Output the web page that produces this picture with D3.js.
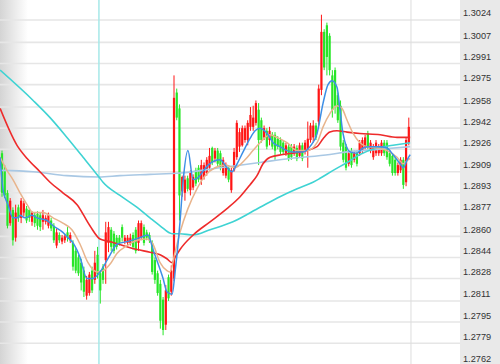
<!DOCTYPE html>
<html>
<head>
<meta charset="utf-8">
<script src="https://cdn.jsdelivr.net/npm/d3@7"></script>
<style>
  html, body { margin: 0; padding: 0; background: #fff; }
  svg { display: block; }
</style>
</head>
<body>
<div id="chart"></div>
<script>
// right scale labels
const priceTicks = ["1.3024", "1.3007", "1.2991", "1.2975", "1.2958", "1.2942", "1.2926", "1.2909",
    "1.2893", "1.2877", "1.2860", "1.2844", "1.2828", "1.2811", "1.2795", "1.2779", "1.2762"];

// candles, one per bar: [open, high, low, close]
const candles = [
    [1.2923,1.2925,1.2890,1.2893], [1.2910,1.2914,1.2889,1.2891], [1.2893,1.2895,1.2866,1.2868], [1.2870,1.2889,1.2868,1.2887],
    [1.2880,1.2882,1.2853,1.2857], [1.2859,1.2884,1.2856,1.2878], [1.2882,1.2884,1.2871,1.2874], [1.2874,1.2889,1.2870,1.2887],
    [1.2878,1.2887,1.2875,1.2885], [1.2881,1.2883,1.2870,1.2872], [1.2880,1.2881,1.2871,1.2874], [1.2871,1.2879,1.2868,1.2878],
    [1.2876,1.2878,1.2867,1.2870], [1.2877,1.2879,1.2865,1.2868], [1.2876,1.2878,1.2864,1.2867], [1.2871,1.2880,1.2865,1.2876],
    [1.2871,1.2876,1.2869,1.2874], [1.2868,1.2878,1.2866,1.2876], [1.2872,1.2874,1.2864,1.2866], [1.2868,1.2870,1.2855,1.2857],
    [1.2853,1.2866,1.2851,1.2863], [1.2861,1.2863,1.2855,1.2857], [1.2856,1.2861,1.2854,1.2859], [1.2857,1.2862,1.2855,1.2860],
    [1.2863,1.2867,1.2856,1.2859], [1.2857,1.2863,1.2855,1.2861], [1.2855,1.2857,1.2834,1.2837], [1.2849,1.2851,1.2832,1.2834],
    [1.2844,1.2846,1.2830,1.2832], [1.2840,1.2843,1.2819,1.2825], [1.2834,1.2837,1.2814,1.2818], [1.2815,1.2830,1.2812,1.2827],
    [1.2817,1.2833,1.2815,1.2831], [1.2834,1.2837,1.2817,1.2819], [1.2827,1.2849,1.2824,1.2840], [1.2846,1.2852,1.2828,1.2831],
    [1.2832,1.2834,1.2809,1.2819], [1.2837,1.2839,1.2824,1.2827], [1.2842,1.2871,1.2824,1.2863], [1.2855,1.2871,1.2848,1.2867],
    [1.2865,1.2867,1.2849,1.2852], [1.2862,1.2864,1.2847,1.2849], [1.2859,1.2861,1.2850,1.2852], [1.2859,1.2861,1.2853,1.2855],
    [1.2867,1.2869,1.2856,1.2859], [1.2856,1.2861,1.2854,1.2859], [1.2855,1.2861,1.2853,1.2859], [1.2855,1.2862,1.2853,1.2859],
    [1.2861,1.2863,1.2850,1.2852], [1.2865,1.2867,1.2847,1.2849], [1.2855,1.2872,1.2849,1.2870], [1.2859,1.2872,1.2857,1.2870],
    [1.2867,1.2869,1.2853,1.2855], [1.2863,1.2865,1.2857,1.2859], [1.2861,1.2863,1.2855,1.2857], [1.2855,1.2857,1.2831,1.2833],
    [1.2842,1.2844,1.2824,1.2827], [1.2832,1.2834,1.2815,1.2817], [1.2824,1.2827,1.2790,1.2796], [1.2812,1.2814,1.2785,1.2789],
    [1.2793,1.2823,1.2789,1.2819], [1.2829,1.2831,1.2811,1.2813], [1.2818,1.2838,1.2815,1.2834], [1.2828,1.2982,1.2826,1.2965],
    [1.2969,1.2972,1.2948,1.2950], [1.2957,1.2960,1.2872,1.2891], [1.2894,1.2906,1.2890,1.2905], [1.2893,1.2906,1.2887,1.2903],
    [1.2904,1.2906,1.2894,1.2896], [1.2895,1.2910,1.2891,1.2908], [1.2897,1.2907,1.2895,1.2905], [1.2910,1.2912,1.2898,1.2900],
    [1.2912,1.2914,1.2901,1.2903], [1.2903,1.2918,1.2899,1.2914], [1.2905,1.2916,1.2903,1.2914], [1.2908,1.2920,1.2906,1.2918],
    [1.2912,1.2927,1.2910,1.2921], [1.2927,1.2928,1.2914,1.2916], [1.2919,1.2927,1.2916,1.2925], [1.2925,1.2927,1.2913,1.2915],
    [1.2923,1.2925,1.2910,1.2912], [1.2908,1.2920,1.2906,1.2918], [1.2906,1.2916,1.2904,1.2914], [1.2912,1.2914,1.2901,1.2903],
    [1.2895,1.2912,1.2893,1.2910], [1.2910,1.2927,1.2909,1.2924], [1.2920,1.2948,1.2918,1.2946], [1.2928,1.2942,1.2924,1.2939],
    [1.2929,1.2944,1.2928,1.2942], [1.2933,1.2944,1.2931,1.2942], [1.2933,1.2948,1.2929,1.2946], [1.2943,1.2958,1.2940,1.2952],
    [1.2943,1.2959,1.2940,1.2950], [1.2946,1.2963,1.2944,1.2961], [1.2956,1.2961,1.2914,1.2933], [1.2948,1.2950,1.2931,1.2933],
    [1.2935,1.2944,1.2933,1.2942], [1.2940,1.2942,1.2926,1.2928], [1.2933,1.2943,1.2929,1.2940], [1.2937,1.2939,1.2926,1.2928],
    [1.2937,1.2939,1.2918,1.2925], [1.2934,1.2936,1.2926,1.2928], [1.2933,1.2935,1.2922,1.2924], [1.2931,1.2933,1.2922,1.2924],
    [1.2923,1.2931,1.2921,1.2929], [1.2928,1.2930,1.2917,1.2919], [1.2928,1.2930,1.2918,1.2920], [1.2923,1.2930,1.2921,1.2928],
    [1.2927,1.2929,1.2917,1.2919], [1.2921,1.2931,1.2920,1.2929], [1.2929,1.2931,1.2917,1.2919], [1.2924,1.2933,1.2922,1.2931],
    [1.2925,1.2947,1.2912,1.2934], [1.2933,1.2946,1.2931,1.2944], [1.2935,1.2948,1.2931,1.2944], [1.2944,1.2946,1.2933,1.2935],
    [1.2947,1.2975,1.2944,1.2972], [1.2971,1.3028,1.2967,1.3015], [1.3015,1.3017,1.2986,1.2988], [1.3020,1.3022,1.2982,1.2996],
    [1.3012,1.3014,1.2982,1.2986], [1.2982,1.2986,1.2950,1.2956], [1.2986,1.2988,1.2953,1.2959], [1.2967,1.2969,1.2946,1.2948],
    [1.2959,1.2963,1.2925,1.2928], [1.2931,1.2933,1.2916,1.2918], [1.2928,1.2930,1.2910,1.2912], [1.2915,1.2925,1.2913,1.2923],
    [1.2925,1.2927,1.2912,1.2914], [1.2918,1.2925,1.2916,1.2923], [1.2923,1.2925,1.2913,1.2915], [1.2923,1.2933,1.2921,1.2931],
    [1.2925,1.2935,1.2923,1.2933], [1.2928,1.2937,1.2926,1.2935], [1.2938,1.2940,1.2926,1.2928], [1.2925,1.2933,1.2923,1.2931],
    [1.2920,1.2930,1.2918,1.2928], [1.2923,1.2933,1.2921,1.2931], [1.2923,1.2930,1.2921,1.2928], [1.2923,1.2933,1.2921,1.2931],
    [1.2931,1.2933,1.2921,1.2923], [1.2931,1.2933,1.2918,1.2920], [1.2923,1.2925,1.2913,1.2915], [1.2921,1.2923,1.2906,1.2908],
    [1.2918,1.2920,1.2906,1.2908], [1.2908,1.2916,1.2906,1.2914], [1.2910,1.2920,1.2908,1.2918], [1.2918,1.2920,1.2896,1.2899],
    [1.2901,1.2935,1.2898,1.2933], [1.2931,1.2950,1.2929,1.2943]
];

// moving averages as drawn on the chart: [bar, price]
const maFast = [[-0.7,1.2920],[0.4,1.2895],[2.2,1.2884],[4,1.2874],[5.9,1.2874],[6.6,1.2876],[8.4,1.2874],[11,1.2876],
    [12.8,1.2874],[16.5,1.2872],[18.7,1.2868],[22.3,1.2863],[24.2,1.2859],[26,1.2855],[28.6,1.2844],[31.1,1.2828],
    [33.3,1.2828],[35.9,1.2833],[39.6,1.2846],[42.1,1.2854],[45.8,1.2856],[50.5,1.2859],[53.5,1.2861],[55.3,1.2850],
    [59,1.2828],[60.4,1.2818],[62.3,1.2816],[63.4,1.2833],[65.2,1.2871],[66.3,1.2901],[68.1,1.2925],[70,1.2903],
    [71.4,1.2904],[75.5,1.2914],[79.9,1.2918],[82.4,1.2912],[84.2,1.2909],[86.1,1.2915],[88.3,1.2924],[90.8,1.2934],
    [92.7,1.2940],[94.5,1.2942],[97.1,1.2938],[99.3,1.2931],[101.8,1.2928],[104.4,1.2925],[106.6,1.2924],[110.3,1.2924],
    [112.8,1.2928],[115.4,1.2938],[117.6,1.2961],[119.4,1.2975],[120.9,1.2978],[122.7,1.2973],[123.8,1.2956],[124.9,1.2938],
    [127.5,1.2924],[130,1.2923],[132.2,1.2927],[134.8,1.2928],[138.5,1.2928],[141,1.2927],[143.2,1.2922],[145.8,1.2915],
    [147,1.2912],[148.4,1.2918],[149.5,1.2922]];
const maTen = [[-0.7,1.2920],[1.8,1.2910],[4,1.2903],[6.6,1.2893],[9.2,1.2884],[11.4,1.2878],[15,1.2878],[18.7,1.2874],
    [22.3,1.2870],[25.6,1.2865],[28.6,1.2854],[31.5,1.2840],[34.8,1.2833],[37,1.2834],[39.6,1.2839],[42.1,1.2847],
    [45.8,1.2853],[49.5,1.2857],[53.1,1.2858],[55.3,1.2854],[57.9,1.2840],[60.4,1.2834],[61.5,1.2833],[63.4,1.2848],
    [65.2,1.2863],[68.1,1.2881],[71.4,1.2896],[74.4,1.2906],[78,1.2912],[81.7,1.2914],[85.3,1.2912],[89,1.2918],
    [91.9,1.2925],[94.5,1.2931],[98.2,1.2937],[100.7,1.2935],[104.4,1.2931],[108.1,1.2925],[111.7,1.2925],[115.4,1.2931],
    [117.6,1.2943],[120.1,1.2953],[122.7,1.2959],[124.5,1.2957],[126.4,1.2948],[128.6,1.2938],[131.1,1.2931],[133.7,1.2928],
    [137.4,1.2927],[141,1.2925],[144.7,1.2920],[147,1.2915],[148.7,1.2918],[149.5,1.2919]];
const maRed = [[-0.7,1.2957],[5.5,1.2929],[9.2,1.2919],[13.9,1.2909],[17.6,1.2901],[22.3,1.2893],[27.5,1.2884],[32.2,1.2868],
    [35.9,1.2858],[39.6,1.2856],[44.3,1.2853],[49.5,1.2850],[54.2,1.2848],[57.9,1.2846],[60.4,1.2843],[62.3,1.2840],
    [63.4,1.2844],[65.2,1.2850],[70,1.2861],[76.2,1.2871],[82.4,1.2881],[87.2,1.2890],[90.8,1.2899],[93.4,1.2906],
    [95.6,1.2915],[98.2,1.2920],[102.9,1.2922],[109.2,1.2924],[115.4,1.2928],[117.6,1.2934],[120.1,1.2939],[122.7,1.2940],
    [126.4,1.2939],[131.1,1.2938],[138.5,1.2937],[144.7,1.2935],[149.5,1.2935]];
const maCyan = [[-0.7,1.2986],[11.4,1.2963],[17.6,1.2950],[23.8,1.2935],[29.7,1.2920],[35.5,1.2905],[37,1.2901],
    [43.2,1.2891],[49.5,1.2882],[54.2,1.2874],[57.9,1.2868],[62.3,1.2862],[65.2,1.2862],[70,1.2861],[76.2,1.2865],
    [84.6,1.2871],[94.5,1.2882],[101.8,1.2890],[108.1,1.2896],[113.9,1.2901],[116.5,1.2904],[121.3,1.2910],[126.4,1.2916],
    [131.1,1.2922],[137.4,1.2927],[143.2,1.2929],[149.5,1.2931]];
const maLong = [[-0.7,1.2910],[11.4,1.2909],[23.8,1.2906],[35.5,1.2905],[43.2,1.2906],[54.2,1.2907],[65.2,1.2908],
    [79.9,1.2912],[94.5,1.2916],[105.5,1.2919],[120.1,1.2922],[126.4,1.2924],[138.5,1.2926],[149.5,1.2928]];

// vertical marker lines, by bar
const markerBars = [35.5, 149.8];

const width = 500;
const height = 364;
const upColor = "#ff1515";
const downColor = "#27e627";

const svg = d3.select("#chart").append("svg")
    .attr("width", width)
    .attr("height", height);

const x = d3.scaleLinear().domain([0, candles.length - 1]).range([2, 408.8]);
const y = d3.scaleLinear().domain([1.2762, 1.3024]).range([365.6, 20]);

// soft grey shade on the left edge
const defs = svg.append("defs");
const shade = defs.append("linearGradient").attr("id", "leftShade");
shade.append("stop").attr("offset", "0%").attr("stop-color", "#d4d4d4");
shade.append("stop").attr("offset", "100%").attr("stop-color", "#ffffff");

svg.append("rect").attr("width", width).attr("height", height).attr("fill", "#fff");
svg.append("rect").attr("width", 28).attr("height", height).attr("fill", "url(#leftShade)");

// horizontal grid
svg.append("g")
    .selectAll("line")
    .data(priceTicks)
    .join("line")
    .attr("x1", 0)
    .attr("x2", 460)
    .attr("y1", d => y(+d))
    .attr("y2", d => y(+d))
    .attr("stroke", "#e6e6e6")
    .attr("stroke-width", 1.6);

// vertical markers
svg.append("g")
    .selectAll("line")
    .data(markerBars)
    .join("line")
    .attr("x1", d => x(d))
    .attr("x2", d => x(d))
    .attr("y1", 0)
    .attr("y2", height)
    .attr("stroke", (d, i) => i === 0 ? "#a6e8e8" : "#dedede")
    .attr("stroke-width", (d, i) => i === 0 ? 1.5 : 1);

// candles (red = up, green = down)
const isUp = d => d[3] >= d[0];
const candleG = svg.append("g");

candleG.selectAll(".wick")
    .data(candles)
    .join("line")
    .attr("class", "wick")
    .attr("x1", (d, i) => x(i))
    .attr("x2", (d, i) => x(i))
    .attr("y1", d => y(d[1]))
    .attr("y2", d => y(d[2]))
    .attr("stroke", d => isUp(d) ? upColor : downColor)
    .attr("stroke-width", 1);

candleG.selectAll(".body")
    .data(candles)
    .join("rect")
    .attr("class", "body")
    .attr("x", (d, i) => x(i) - 1.1)
    .attr("width", 2.2)
    .attr("y", d => y(Math.max(d[0], d[3])))
    .attr("height", d => Math.max(1, Math.abs(y(d[0]) - y(d[3]))))
    .attr("fill", d => isUp(d) ? upColor : downColor);

// moving average lines
const line = d3.line()
    .x(d => x(d[0]))
    .y(d => y(d[1]))
    .curve(d3.curveMonotoneX);

const maSeries = [
    { data: maLong, color: "#a9c8e4", w: 1.6 },
    { data: maCyan, color: "#3fd3d3", w: 1.6 },
    { data: maRed, color: "#ee2b2b", w: 1.6 },
    { data: maTen, color: "#e8b48c", w: 1.5 },
    { data: maFast, color: "#3d8fe6", w: 1.5 }
];

svg.append("g")
    .selectAll("path")
    .data(maSeries)
    .join("path")
    .attr("d", d => line(d.data))
    .attr("fill", "none")
    .attr("stroke", d => d.color)
    .attr("stroke-width", d => d.w);

// price scale on the right
svg.append("rect")
    .attr("x", 460)
    .attr("width", 40)
    .attr("height", height)
    .attr("fill", "#e9e9e9");

const axis = svg.append("g")
    .attr("transform", "translate(462,0)")
    .call(d3.axisRight(y)
        .tickValues(priceTicks.map(Number))
        .tickFormat(d3.format(".4f"))
        .tickSize(0)
        .tickPadding(1));

axis.select(".domain").remove();
axis.selectAll("text")
    .attr("y", -7)
    .attr("fill", "#333")
    .style("font-family", "'Liberation Sans', Arial, sans-serif")
    .style("font-size", "9.2px");
</script>
</body>
</html>
